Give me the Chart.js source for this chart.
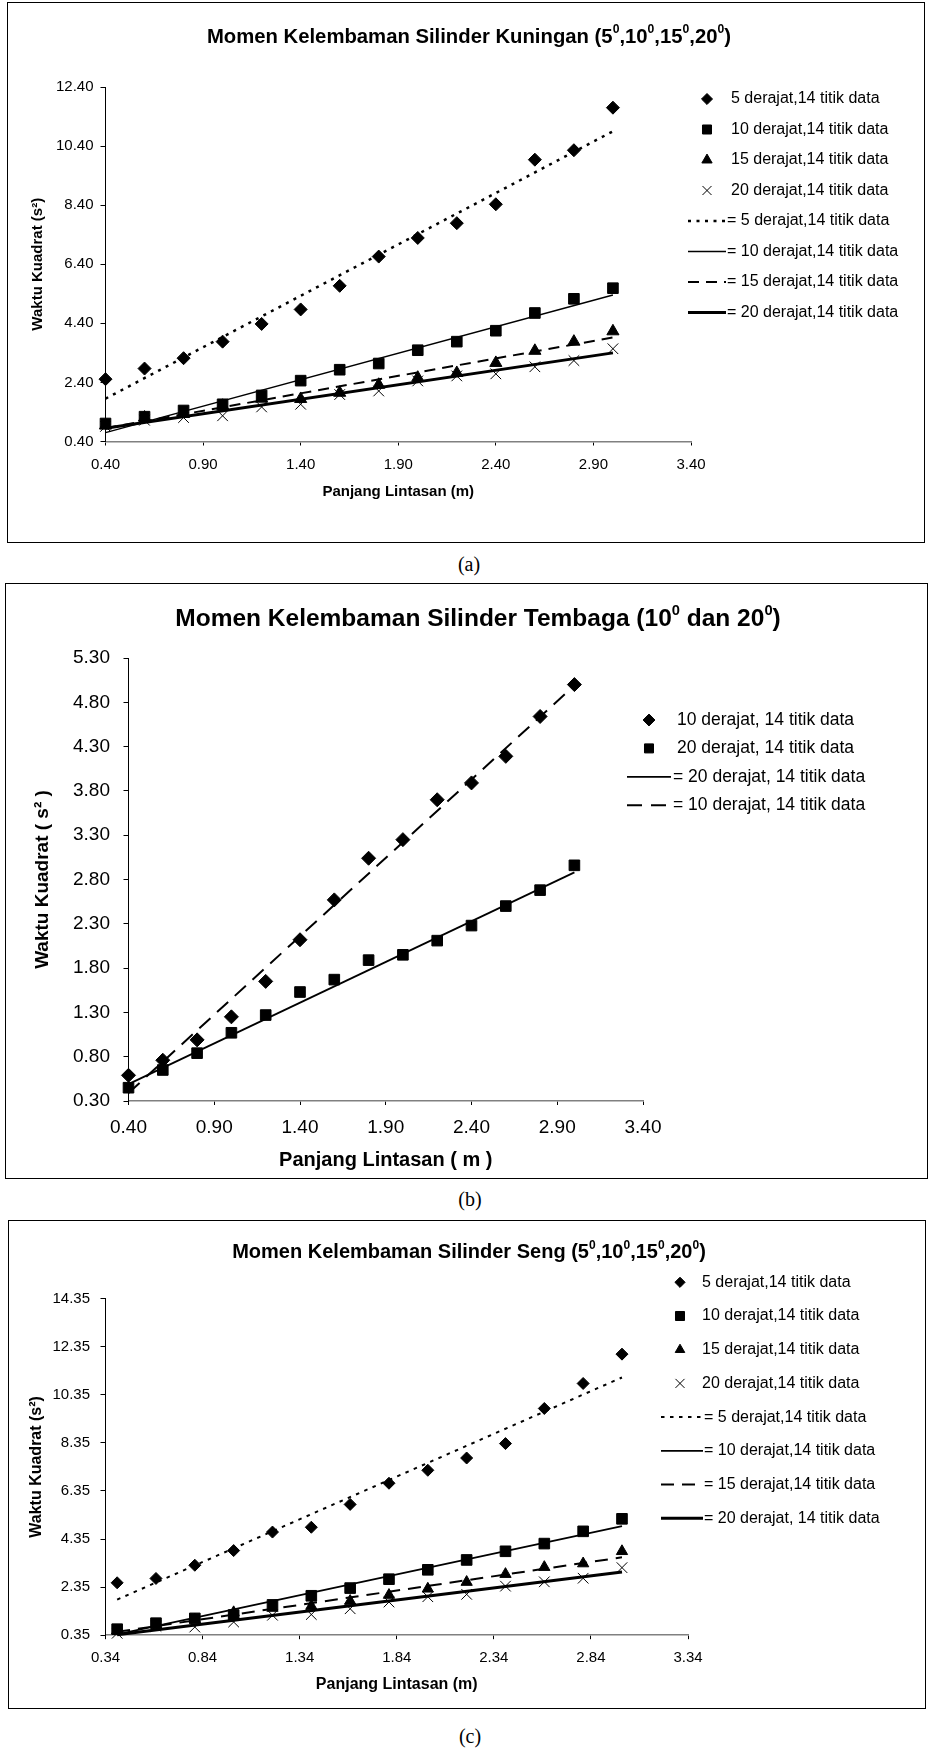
<!DOCTYPE html>
<html>
<head>
<meta charset="utf-8">
<script src="https://cdn.jsdelivr.net/npm/chart.js@4.4.0/dist/chart.umd.min.js"></script>
<style>
  body { margin: 0; background: #fff; width: 931px; height: 1748px; position: relative; overflow: hidden;
         font-family: "Liberation Sans", Arial, sans-serif; color: #000; }
  canvas { position: absolute; left: 0; }
  .bingkai { position: absolute; border: 1px solid #000; box-sizing: border-box; pointer-events: none; }
  .judul { position: absolute; font-weight: bold; white-space: nowrap; transform: translate(-50%, -50%); }
  .judul sup { font-size: 0.6em; vertical-align: 0.75em; line-height: 0; }
  .kap { position: absolute; font-family: "Liberation Serif", "Times New Roman", serif; font-size: 20px;
         transform: translate(-50%, -50%); }
</style>
</head>
<body>
<canvas id="grafikA" width="931" height="540" style="top:2px"></canvas>
<canvas id="grafikB" width="931" height="595" style="top:583px"></canvas>
<canvas id="grafikC" width="931" height="488" style="top:1220px"></canvas>

<div class="bingkai" style="left:7px;top:2px;width:918px;height:541px"></div>
<div class="bingkai" style="left:5px;top:583px;width:923px;height:596px"></div>
<div class="bingkai" style="left:8px;top:1220px;width:918px;height:489px"></div>

<div class="judul" style="left:469px;top:36px;font-size:20.3px">Momen Kelembaman Silinder Kuningan (5<sup>0</sup>,10<sup>0</sup>,15<sup>0</sup>,20<sup>0</sup>)</div>
<div class="judul" style="left:478px;top:618px;font-size:24.5px">Momen Kelembaman Silinder Tembaga (10<sup>0</sup> dan 20<sup>0</sup>)</div>
<div class="judul" style="left:469px;top:1251px;font-size:20px">Momen Kelembaman Silinder Seng (5<sup>0</sup>,10<sup>0</sup>,15<sup>0</sup>,20<sup>0</sup>)</div>

<div class="kap" style="left:469px;top:564px">(a)</div>
<div class="kap" style="left:470px;top:1199px">(b)</div>
<div class="kap" style="left:470px;top:1736px">(c)</div>

<script>
// panjang lintasan (m), sama untuk semua grafik
const panjang = [0.4, 0.6, 0.8, 1.0, 1.2, 1.4, 1.6, 1.8, 2.0, 2.2, 2.4, 2.6, 2.8, 3.0];

// (a) silinder kuningan - waktu kuadrat (s^2)
const kuningan5  = [2.51, 2.87, 3.22, 3.78, 4.38, 4.87, 5.67, 6.66, 7.29, 7.79, 8.43, 9.94, 10.26, 11.70];
const kuningan10 = [1.01, 1.24, 1.45, 1.66, 1.96, 2.46, 2.83, 3.04, 3.49, 3.78, 4.15, 4.75, 5.23, 5.59];
const kuningan15 = [0.94, 1.21, 1.33, 1.61, 1.85, 1.84, 2.05, 2.32, 2.56, 2.72, 3.06, 3.47, 3.78, 4.13];
const kuningan20 = [0.91, 1.12, 1.21, 1.27, 1.57, 1.66, 1.99, 2.11, 2.45, 2.62, 2.69, 2.93, 3.14, 3.54];
// garis trend: nilai pada x awal dan x akhir
const trendKuningan5  = [1.85, 10.90];
const trendKuningan10 = [0.70, 5.36];
const trendKuningan15 = [0.85, 3.92];
const trendKuningan20 = [0.85, 3.40];
const sumbuYKuningan = [0.40, 2.40, 4.40, 6.40, 8.40, 10.40, 12.40];
const sumbuXKuningan = [0.40, 0.90, 1.40, 1.90, 2.40, 2.90, 3.40];

// (b) silinder tembaga
const tembaga10 = [0.59, 0.76, 0.99, 1.25, 1.65, 2.12, 2.57, 3.04, 3.25, 3.70, 3.89, 4.19, 4.64, 5.00];
const tembaga20 = [0.45, 0.65, 0.84, 1.07, 1.27, 1.53, 1.67, 1.89, 1.95, 2.11, 2.28, 2.50, 2.68, 2.96];
const trendTembaga20 = [0.49, 2.88];
const trendTembaga10 = [0.39, 4.99];
const sumbuYTembaga = [0.30, 0.80, 1.30, 1.80, 2.30, 2.80, 3.30, 3.80, 4.30, 4.80, 5.30];
const sumbuXTembaga = [0.40, 0.90, 1.40, 1.90, 2.40, 2.90, 3.40];

// (c) silinder seng
const seng5  = [2.53, 2.71, 3.26, 3.87, 4.64, 4.84, 5.79, 6.67, 7.21, 7.72, 8.32, 9.78, 10.82, 12.04];
const seng10 = [0.60, 0.85, 1.05, 1.19, 1.61, 1.99, 2.31, 2.68, 3.07, 3.48, 3.84, 4.16, 4.67, 5.19];
const seng15 = [0.54, 0.79, 1.00, 1.30, 1.48, 1.56, 1.77, 2.02, 2.28, 2.56, 2.89, 3.18, 3.33, 3.84];
const seng20 = [0.43, 0.72, 0.69, 0.90, 1.18, 1.21, 1.45, 1.73, 1.95, 2.05, 2.39, 2.57, 2.72, 3.16];
const trendSeng5  = [1.83, 11.07];
const trendSeng10 = [0.38, 4.89];
const trendSeng15 = [0.49, 3.59];
const trendSeng20 = [0.37, 2.98];
const sumbuYSeng = [0.35, 2.35, 4.35, 6.35, 8.35, 10.35, 12.35, 14.35];
const sumbuXSeng = [0.34, 0.84, 1.34, 1.84, 2.34, 2.84, 3.34];

const FONT = '"Liberation Sans", Arial, sans-serif';
Chart.defaults.font.family = FONT;
Chart.defaults.color = '#000';

// legenda digambar sendiri supaya posisinya sama dengan gambar asli
const legendaManual = {
  id: 'legendaManual',
  afterDraw(chart, args, o) {
    const ctx = chart.ctx;
    ctx.save();
    ctx.fillStyle = '#000';
    ctx.strokeStyle = '#000';
    ctx.font = o.ukuran + 'px ' + FONT;
    ctx.textBaseline = 'middle';
    ctx.textAlign = 'left';
    chart.data.datasets.forEach((ds, i) => {
      const y = o.y0 + i * o.jarak;
      if (ds.showLine) {
        ctx.lineWidth = ds.borderWidth;
        ctx.setLineDash(ds.borderDash || []);
        ctx.beginPath();
        ctx.moveTo(o.garisX1, y);
        ctx.lineTo(o.garisX2, y);
        ctx.stroke();
        ctx.setLineDash([]);
        ctx.fillText(ds.label, o.teksGarisX, y);
      } else {
        ctx.lineWidth = ds.pointBorderWidth;
        Chart.helpers.drawPoint(ctx, { pointStyle: ds.pointStyle, radius: ds.pointRadius * 0.85, rotation: 0, borderWidth: ds.pointBorderWidth }, o.penandaX, y);
        ctx.fillText(ds.label, o.teksX, y);
      }
    });
    ctx.restore();
  }
};

function titik(nilai) {
  return panjang.map((x, i) => ({ x: x, y: nilai[i] }));
}
function garis(trend) {
  return [{ x: panjang[0], y: trend[0] }, { x: panjang[panjang.length - 1], y: trend[1] }];
}
function seriTitik(label, nilai, gaya, r) {
  return { label: label, data: titik(nilai), showLine: false, pointStyle: gaya, pointRadius: r,
           pointBackgroundColor: '#000', pointBorderColor: '#000', pointBorderWidth: 1, clip: false };
}
function seriGaris(label, trend, tebal, putus) {
  return { label: label, data: garis(trend), showLine: true, borderColor: '#000', borderWidth: tebal,
           borderDash: putus, pointRadius: 0, clip: false };
}

function buatGrafik(id, datasets, s) {
  return new Chart(document.getElementById(id), {
    type: 'scatter',
    data: { datasets: datasets },
    plugins: [legendaManual],
    options: {
      responsive: false,
      animation: false,
      layout: { padding: s.padding },
      plugins: {
        legend: { display: false },
        tooltip: { enabled: false },
        legendaManual: s.legenda
      },
      scales: {
        x: {
          type: 'linear',
          min: s.xTicks[0],
          max: s.xTicks[s.xTicks.length - 1],
          afterBuildTicks: sc => { sc.ticks = s.xTicks.map(v => ({ value: v })); },
          afterFit: sc => { sc.height = s.xTinggi; },
          ticks: { callback: v => v.toFixed(2), font: { size: s.fTick }, color: '#000', padding: s.xPadTick,
                   maxRotation: 0, autoSkip: false },
          grid: { drawOnChartArea: false, tickLength: 4, color: '#000' },
          border: { color: '#808080', width: 1.5 },
          title: { display: true, text: s.xJudul, font: { size: s.fJudulX, weight: 'bold' }, color: '#000',
                   padding: { top: 0, bottom: s.xPadJudul } }
        },
        y: {
          type: 'linear',
          min: s.yTicks[0],
          max: s.yTicks[s.yTicks.length - 1],
          afterBuildTicks: sc => { sc.ticks = s.yTicks.map(v => ({ value: v })); },
          afterFit: sc => { sc.width = s.yLebar; },
          ticks: { callback: v => v.toFixed(2), font: { size: s.fTick }, color: '#000', padding: s.yPadTick,
                   autoSkip: false },
          grid: { drawOnChartArea: false, tickLength: 5, color: '#000' },
          border: { color: '#000', width: 1 },
          title: { display: true, text: s.yJudul, font: { size: s.fJudulY, weight: 'bold' }, color: '#000',
                   padding: { top: s.yPadJudul, bottom: 0 } }
        }
      }
    }
  });
}

// (a) Kuningan
buatGrafik('grafikA', [
  seriTitik('5 derajat,14 titik data', kuningan5, 'rectRot', 6.5),
  seriTitik('10 derajat,14 titik data', kuningan10, 'rect', 7.5),
  seriTitik('15 derajat,14 titik data', kuningan15, 'triangle', 7),
  seriTitik('20 derajat,14 titik data', kuningan20, 'crossRot', 7.5),
  seriGaris('= 5 derajat,14 titik data', trendKuningan5, 2.5, [3, 5.5]),
  seriGaris('= 10 derajat,14 titik data', trendKuningan10, 1.5, []),
  seriGaris('= 15 derajat,14 titik data', trendKuningan15, 2, [11, 7]),
  seriGaris('= 20 derajat,14 titik data', trendKuningan20, 3, [])
], {
  padding: { left: 20, right: 240, top: 85, bottom: 38.5 },
  xTicks: sumbuXKuningan, yTicks: sumbuYKuningan,
  xTinggi: 62, yLebar: 85.5,
  fTick: 15, xPadTick: 10.5, yPadTick: 7,
  xJudul: 'Panjang Lintasan (m)', fJudulX: 15, xPadJudul: 2.8,
  yJudul: 'Waktu Kuadrat (s²)', fJudulY: 15, yPadJudul: 9,
  legenda: { ukuran: 16, y0: 97, jarak: 30.5, penandaX: 707, teksX: 731, garisX1: 688, garisX2: 726, teksGarisX: 727 }
});

// (b) Tembaga
buatGrafik('grafikB', [
  seriTitik('10 derajat, 14 titik data', tembaga10, 'rectRot', 7),
  seriTitik('20 derajat, 14 titik data', tembaga20, 'rect', 7.5),
  seriGaris('= 20 derajat, 14 titik data', trendTembaga20, 1.8, []),
  seriGaris('= 10 derajat, 14 titik data', trendTembaga10, 2, [15, 9])
], {
  padding: { left: 20, right: 288, top: 75, bottom: 5 },
  xTicks: sumbuXTembaga, yTicks: sumbuYTembaga,
  xTinggi: 72, yLebar: 108.5,
  fTick: 19, xPadTick: 11.6, yPadTick: 13.5,
  xJudul: 'Panjang Lintasan ( m )', fJudulX: 20, xPadJudul: 0.5,
  yJudul: 'Waktu Kuadrat ( s² )', fJudulY: 19, yPadJudul: 11.6,
  legenda: { ukuran: 17.5, y0: 137, jarak: 28.4, penandaX: 649, teksX: 677, garisX1: 627, garisX2: 671, teksGarisX: 673 }
});

// (c) Seng
buatGrafik('grafikC', [
  seriTitik('5 derajat,14 titik data', seng5, 'rectRot', 6),
  seriTitik('10 derajat,14 titik data', seng10, 'rect', 7.5),
  seriTitik('15 derajat,14 titik data', seng15, 'triangle', 6.5),
  seriTitik('20 derajat,14 titik data', seng20, 'crossRot', 7.5),
  seriGaris('= 5 derajat,14 titik data', trendSeng5, 2, [3.5, 5.5]),
  seriGaris('= 10 derajat,14 titik data', trendSeng10, 1.8, []),
  seriGaris('= 15 derajat,14 titik data', trendSeng15, 2, [13, 8]),
  seriGaris('= 20 derajat, 14 titik data', trendSeng20, 3, [])
], {
  padding: { left: 18, right: 243, top: 78.6, bottom: 10.8 },
  xTicks: sumbuXSeng, yTicks: sumbuYSeng,
  xTinggi: 62, yLebar: 87.5,
  fTick: 15, xPadTick: 9.3, yPadTick: 10.5,
  xJudul: 'Panjang Lintasan (m)', fJudulX: 16, xPadJudul: 2.6,
  yJudul: 'Waktu Kuadrat (s²)', fJudulY: 16, yPadJudul: 9.1,
  legenda: { ukuran: 16, y0: 62.3, jarak: 33.7, penandaX: 680, teksX: 702, garisX1: 661, garisX2: 703, teksGarisX: 704 }
});
</script>
</body>
</html>
